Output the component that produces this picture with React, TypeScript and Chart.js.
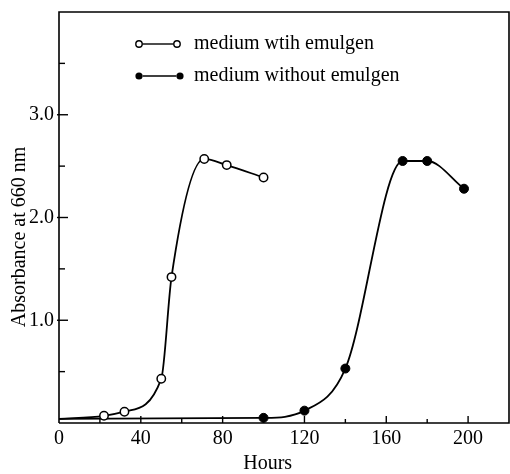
import React, { useEffect, useRef } from "react";
import { Chart, registerables } from "chart.js";

Chart.register(...registerables);

// ---- data ----
const hoursWith = [0, 22, 32, 50, 55, 71, 82, 100];
const absWith = [0.04, 0.07, 0.11, 0.43, 1.42, 2.57, 2.51, 2.39];
const markedWith = [false, true, true, true, true, true, true, true];

const hoursWithout = [0, 100, 120, 140, 168, 180, 198];
const absWithout = [0.04, 0.05, 0.12, 0.53, 2.55, 2.55, 2.28];
const markedWithout = [false, true, true, true, true, true, true];

const legendLabels = ["medium wtih emulgen", "medium without emulgen"];
const xLabelValues = [0, 40, 80, 120, 160, 200];
const yLabelValues = [1, 2, 3];
const xTitle = "Hours";
const yTitle = "Absorbance at 660 nm";

const X_MIN = 0;
const X_MAX = 220;
const Y_MIN = 0;
const Y_MAX = 4;

const FONT = "'Liberation Serif', 'Times New Roman', serif";

const decorPlugin = {
  id: "decor",
  afterDraw(chart: any) {
    const { ctx, chartArea, scales } = chart;
    const { left, right, top, bottom } = chartArea;
    const xs = scales.x;
    const ys = scales.y;
    ctx.save();
    ctx.strokeStyle = "#000";
    ctx.fillStyle = "#000";
    ctx.lineWidth = 1.6;
    // frame
    ctx.beginPath();
    ctx.moveTo(left, bottom);
    ctx.lineTo(left, top);
    ctx.lineTo(right, top);
    ctx.lineTo(right, bottom);
    ctx.lineTo(left, bottom);
    ctx.stroke();

    // inward x ticks
    ctx.lineWidth = 1.4;
    for (let v = 20; v < X_MAX; v += 20) {
      const px = xs.getPixelForValue(v);
      const major = xLabelValues.includes(v);
      ctx.beginPath();
      ctx.moveTo(px, bottom);
      ctx.lineTo(px, bottom - (major ? 7 : 4));
      ctx.stroke();
    }
    // inward y ticks
    for (let v = 0.5; v < Y_MAX; v += 0.5) {
      const py = ys.getPixelForValue(v);
      const major = yLabelValues.includes(v);
      ctx.beginPath();
      ctx.moveTo(left - (major ? 2 : 0), py);
      ctx.lineTo(left + (major ? 9 : 6), py);
      ctx.stroke();
    }

    // y title
    ctx.save();
    ctx.font = `20px ${FONT}`;
    ctx.textAlign = "center";
    ctx.textBaseline = "middle";
    ctx.translate(20, 237);
    ctx.rotate(-Math.PI / 2);
    ctx.fillText(yTitle, 0, 0);
    ctx.restore();

    // x title
    ctx.font = `20px ${FONT}`;
    ctx.textAlign = "center";
    ctx.textBaseline = "middle";
    ctx.fillText(xTitle, xs.getPixelForValue(102), 464);

    // legend
    const rows = [
      { y: top + 32, filled: false, label: legendLabels[0] },
      { y: top + 64, filled: true, label: legendLabels[1] },
    ];
    const x0 = left + 80;
    for (const r of rows) {
      const rr = r.filled ? 3.6 : 3.2;
      const xa = x0;
      const xb = x0 + (r.filled ? 41 : 38);
      ctx.lineWidth = 1.4;
      ctx.beginPath();
      ctx.moveTo(xa + rr, r.y);
      ctx.lineTo(xb - rr, r.y);
      ctx.stroke();
      for (const cx of [xa, xb]) {
        ctx.beginPath();
        ctx.arc(cx, r.y, rr, 0, Math.PI * 2);
        if (r.filled) {
          ctx.fill();
        } else {
          ctx.fillStyle = "#fff";
          ctx.fill();
          ctx.fillStyle = "#000";
          ctx.stroke();
        }
      }
      ctx.font = `20px ${FONT}`;
      ctx.textAlign = "left";
      ctx.textBaseline = "middle";
      ctx.fillText(r.label, x0 + 55, r.y);
    }
    ctx.restore();
  },
};

export default function App() {
  const ref = useRef<HTMLCanvasElement | null>(null);

  useEffect(() => {
    if (!ref.current) return;
    const chart = new Chart(ref.current, {
      type: "line",
      data: {
        datasets: [
          {
            label: legendLabels[0],
            data: hoursWith.map((h, i) => ({ x: h, y: absWith[i] })),
            borderColor: "#000",
            borderWidth: 1.8,
            backgroundColor: "#fff",
            pointBackgroundColor: "#fff",
            pointBorderColor: "#000",
            pointBorderWidth: 1.5,
            pointRadius: markedWith.map((m) => (m ? 4.2 : 0)),
            cubicInterpolationMode: "monotone",
            fill: false,
          },
          {
            label: legendLabels[1],
            data: hoursWithout.map((h, i) => ({ x: h, y: absWithout[i] })),
            borderColor: "#000",
            borderWidth: 1.8,
            backgroundColor: "#000",
            pointBackgroundColor: "#000",
            pointBorderColor: "#000",
            pointBorderWidth: 1,
            pointRadius: markedWithout.map((m) => (m ? 4.5 : 0)),
            cubicInterpolationMode: "monotone",
            fill: false,
          },
        ],
      },
      options: {
        animation: false,
        responsive: false,
        maintainAspectRatio: false,
        layout: { autoPadding: false, padding: { left: 0, right: 1, top: 12, bottom: 0 } },
        plugins: {
          legend: { display: false },
          tooltip: { enabled: false },
          title: { display: false },
        },
        scales: {
          x: {
            type: "linear",
            min: X_MIN,
            max: X_MAX,
            grid: { display: false, drawTicks: false },
            border: { display: false },
            ticks: {
              stepSize: 20,
              autoSkip: false,
              maxRotation: 0,
              padding: 4,
              color: "#000",
              font: { family: FONT, size: 20 },
              callback: (v: any) => (xLabelValues.includes(Number(v)) ? String(v) : null),
            },
            afterFit: (s: any) => {
              s.height = 51;
              s.paddingLeft = 0;
              s.paddingRight = 0;
              s.paddingTop = 0;
              s.paddingBottom = 0;
            },
          },
          y: {
            type: "linear",
            min: Y_MIN,
            max: Y_MAX,
            grid: { display: false, drawTicks: false },
            border: { display: false },
            ticks: {
              stepSize: 0.5,
              autoSkip: false,
              padding: 5,
              color: "#000",
              font: { family: FONT, size: 20 },
              callback: (v: any) => (yLabelValues.includes(Number(v)) ? Number(v).toFixed(1) : null),
            },
            afterFit: (s: any) => {
              s.width = 59;
              s.paddingLeft = 0;
              s.paddingRight = 0;
              s.paddingTop = 0;
              s.paddingBottom = 0;
            },
          },
        },
      },
      plugins: [decorPlugin],
    });
    return () => chart.destroy();
  }, []);

  return (
    <div style={{ position: "fixed", left: 0, top: 0, width: 510, height: 474, background: "#fff" }}>
      <canvas ref={ref} width={510} height={474} style={{ display: "block", width: 510, height: 474 }} />
    </div>
  );
}
